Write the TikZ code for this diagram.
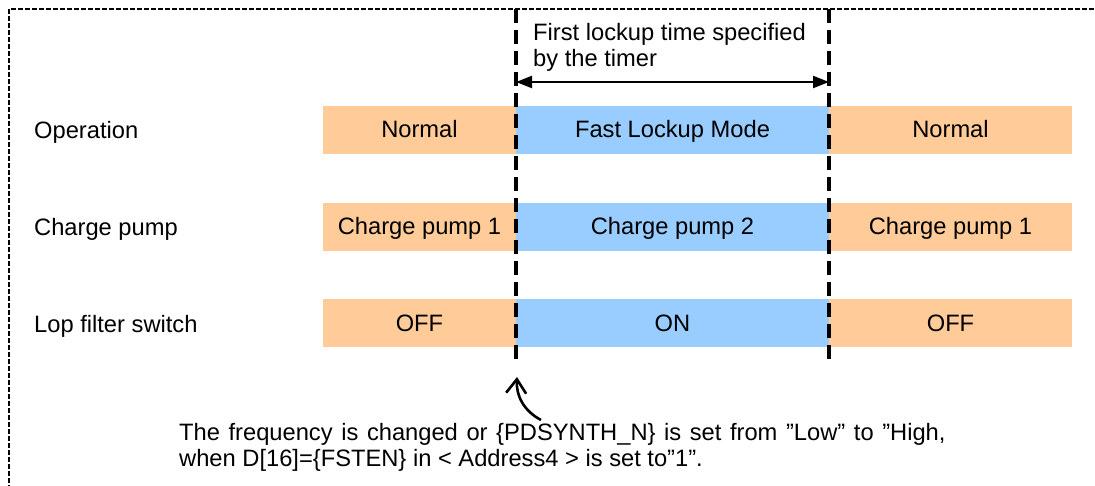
\documentclass[tikz,border=0pt]{standalone}
\usepackage{fontspec}
\setmainfont{Liberation Sans}
\usetikzlibrary{arrows.meta}
\newcommand\diagfont{\fontsize{23.7}{26}\selectfont}
\definecolor{slowfill}{HTML}{FFCC99}
\definecolor{fastfill}{HTML}{99CCFF}
\begin{document}
\begin{tikzpicture}[x=1pt,y=-1pt,
  bar/.style={draw=none, inner sep=0pt, outer sep=0pt, minimum height=48pt,
    text height=16pt, text depth=0pt, font=\diagfont},
  slowbar/.style={bar, fill=slowfill},
  fastbar/.style={bar, fill=fastfill},
  rowlabel/.style={anchor=base west, inner sep=0pt, font=\diagfont},
  caption/.style={anchor=north west, inner sep=0pt, align=left, font=\diagfont},
  timeline/.style={line width=3.6pt, dash pattern=on 14pt off 7pt},
  frameline/.style={line width=2pt, dash pattern=on 5pt off 2pt},
  span/.style={line width=2.2pt, {Triangle[length=16pt,width=12pt]}-{Triangle[length=16pt,width=12pt]}},
  cue/.style={line width=2.6pt, -{Straight Barb[length=14pt,width=20pt]}}]
\useasboundingbox (0,0) rectangle (1095,486);
\clip (0,0) rectangle (1095,486);

% dashed frame
\draw[frameline] (9,490) -- (9,9) -- (1100,9);

% row labels
\node[rowlabel] (lop)  at (34,139) {Operation};
\node[rowlabel] (lcp)  at (34,236) {Charge pump};
\node[rowlabel] (llf)  at (34,332) {Lop filter switch};

% state bars
\node[slowbar, minimum width=193pt] (op1) at (419.5,130) {Normal};
\node[fastbar, minimum width=313pt] (op2) at (672.5,130) {Fast Lockup Mode};
\node[slowbar, minimum width=243pt] (op3) at (950.5,130) {Normal};

\node[slowbar, minimum width=193pt] (cp1) at (419.5,227) {Charge pump 1};
\node[fastbar, minimum width=313pt] (cp2) at (672.5,227) {Charge pump 2};
\node[slowbar, minimum width=243pt] (cp3) at (950.5,227) {Charge pump 1};

\node[slowbar, minimum width=193pt] (lf1) at (419.5,323) {OFF};
\node[fastbar, minimum width=313pt] (lf2) at (672.5,323) {ON};
\node[slowbar, minimum width=243pt] (lf3) at (950.5,323) {OFF};

% switching instants
\coordinate (t1top) at (516,9);
\coordinate (t1bot) at (516,360);
\coordinate (t2top) at (829,9);
\coordinate (t2bot) at (829,360);
\draw[timeline] (t1top) -- (t1bot);
\draw[timeline] (t2top) -- (t2bot);

% lockup interval
\coordinate (s1) at (516,82);
\coordinate (s2) at (829,82);
\draw[span] (s1) -- (s2);
\node[caption] (cap) at (533,23.5) {First lockup time specified\\by the timer};

% trigger note
\node[caption] (note) at (179,423.5) {{\spaceskip=8.6pt The frequency is changed or \{PDSYNTH\_N\} is set from ”Low” to ”High,}\\when D[16]=\{FSTEN\} in < Address4 > is set to”1”.};
\coordinate (cuefrom) at (541,420);
\coordinate (cueto) at (517,377);
\draw[cue] (cuefrom) .. controls (524,411) and (516,396) .. (cueto);
\end{tikzpicture}
\end{document}
